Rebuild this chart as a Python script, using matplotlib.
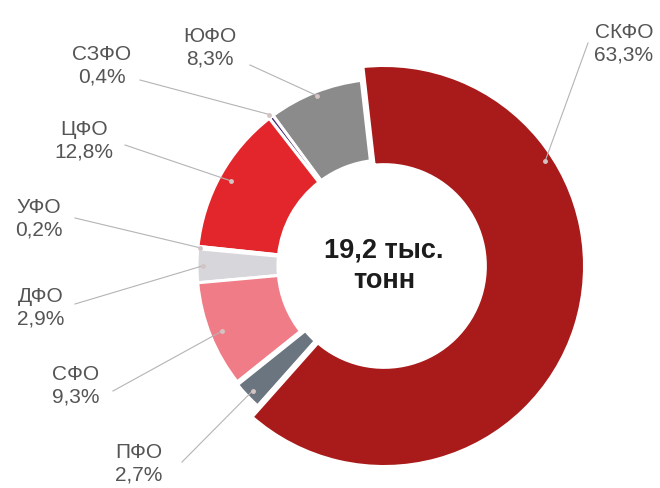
import matplotlib
matplotlib.use("Agg")
import matplotlib.pyplot as plt
import numpy as np

# federal districts, counter-clockwise from the top
names = ['ЮФО', 'СЗФО', 'ЦФО', 'УФО', 'ДФО', 'СФО', 'ПФО', 'СКФО']
shares = [8.3, 0.4, 12.8, 0.2, 2.9, 9.3, 2.7, 63.3]
pct = ['8,3%', '0,4%', '12,8%', '0,2%', '2,9%', '9,3%', '2,7%', '63,3%']
colors = ['#8b8b8b', '#4b2f75', '#e3262c', '#a6c45c', '#d6d6db',
          '#ef7c86', '#6b7580', '#a91b1a']
total_txt = '19,2 тыс.\nтонн'

W, H = 660, 488
def py(y):
    return H - y

# layout in pixels (x, y from top)
cx, cy = 384, 266
r_out, r_in = 187, 106
big_r = 199
label_xy = [(210, 48), (102, 66), (84, 141), (39, 219), (41, 308),
            (76, 386), (139, 464), (624, 44)]
line_end = [(250, 65), (140, 80), (125, 145), (75, 218), (75, 304),
            (113, 391), (182, 462), (588, 43)]
anchor_r = [183, 190, 175, 185, 181, 175, 181, 192]
anchor_ang = [None, None, None, None, None, None, None, 33]

fig = plt.figure(figsize=(W / 100, H / 100), dpi=100)
ax = fig.add_axes([0, 0, 1, 1])

wedges, _ = ax.pie(shares, radius=r_out, center=(cx, py(cy)), startangle=96.5,
                   counterclock=True, colors=colors,
                   wedgeprops=dict(width=r_out - r_in, edgecolor='white',
                                   linewidth=2.2))

thick = {'ПФО': 4.0, 'СКФО': 4.5}
for w, n in zip(wedges, names):
    if n in thick:
        lw = thick[n]
        w.set_linewidth(lw)
        w.set_zorder(3)
        half = lw * 1.39 / 2
        ro = (big_r if n == 'СКФО' else r_out) + half
        w.set_radius(ro)
        w.set_width(ro - r_in + 2 * half)

for i, w in enumerate(wedges):
    ang = anchor_ang[i]
    if ang is None:
        ang = (w.theta1 + w.theta2) / 2
    a = np.deg2rad(ang)
    ax_x = cx + anchor_r[i] * np.cos(a)
    ax_y = py(cy) + anchor_r[i] * np.sin(a)
    ex, ey = line_end[i]
    ax.plot([ax_x, ex], [ax_y, py(ey)], color='#b4b4b4', lw=0.8, zorder=4)
    ax.plot(ax_x, ax_y, 'o', ms=2.5, color='#d4c4c4', zorder=5)
    lx, ly = label_xy[i]
    ax.text(lx, py(ly), names[i] + '\n' + pct[i], ha='center', va='center',
            fontsize=15, color='#555555', linespacing=1.25,
            family=['Liberation Sans', 'DejaVu Sans'])

ax.text(cx, py(cy), total_txt, ha='center', va='center', fontsize=19.5,
        fontweight='bold', color='#1c1c1c', linespacing=1.2,
        family=['Liberation Sans', 'DejaVu Sans'])

ax.set_xlim(0, W)
ax.set_ylim(0, H)
ax.set_aspect('equal')
ax.axis('off')

fig.savefig('out.png', dpi=100, facecolor='white')
